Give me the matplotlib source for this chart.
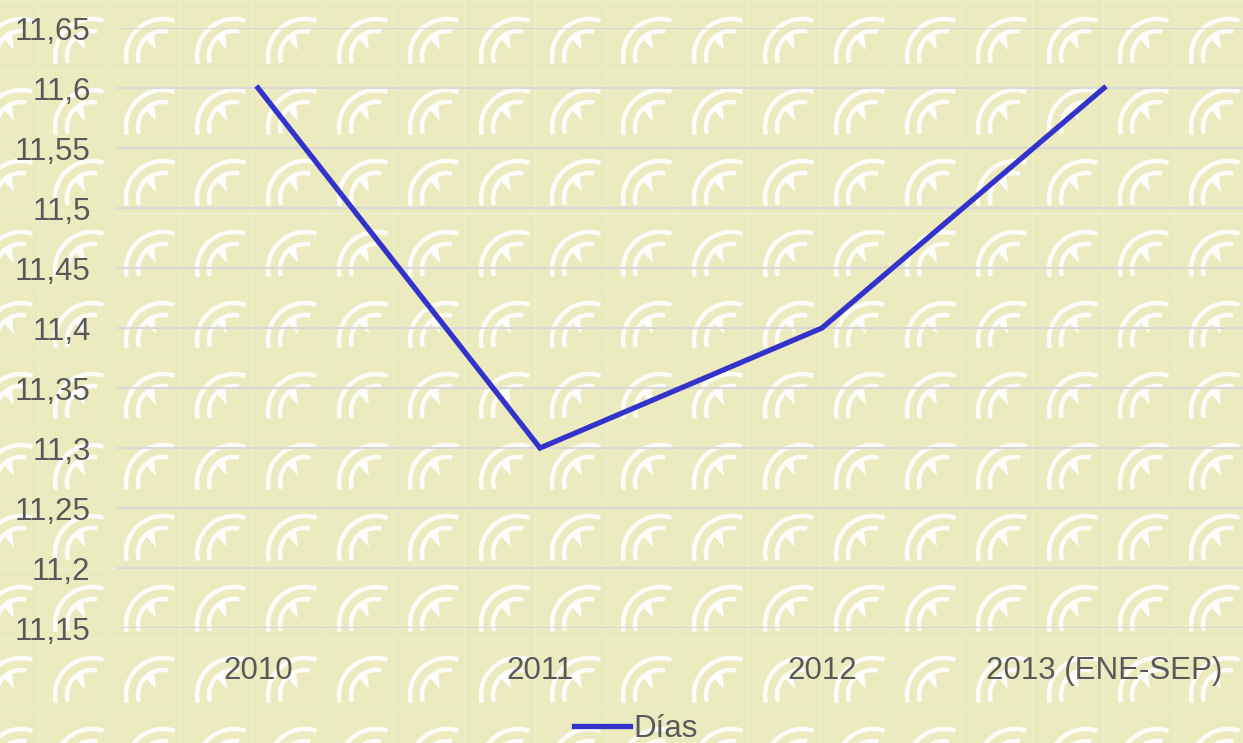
import matplotlib
matplotlib.use("Agg")
import matplotlib.pyplot as plt
from matplotlib.patches import Arc, Polygon
from matplotlib.lines import Line2D
from matplotlib.transforms import Affine2D

years = ["2010", "2011", "2012", "2013 (ENE-SEP)"]
dias = [11.6, 11.3, 11.4, 11.6]
y_ticks = [11.15, 11.2, 11.25, 11.3, 11.35, 11.4, 11.45, 11.5, 11.55, 11.6, 11.65]

W, H = 1243, 743
bg = "#ebebbf"
text_col = "#595959"
line_col = "#3333cc"

plt.rcParams["font.family"] = ["Liberation Sans", "DejaVu Sans"]

fig = plt.figure(figsize=(W / 100, H / 100), dpi=100, facecolor=bg)

# pixel coords (origin top-left) -> display
px = Affine2D().scale(0.01, -0.01).translate(0, H / 100) + fig.dpi_scale_trans

# background tiles with the faint logo
tile = 71
x_off, y_off = 38, 0
for i in range(-1, 18):
    x0 = x_off + i * tile
    fig.add_artist(Line2D([x0, x0], [0, H], transform=px, color="#f0f0cc", lw=1, zorder=-3))
for j in range(0, 12):
    y0 = y_off + j * tile
    fig.add_artist(Line2D([0, W], [y0, y0], transform=px, color="#f0f0cc", lw=1, zorder=-3))
for i in range(-1, 18):
    for j in range(-1, 11):
        x0 = x_off + i * tile
        y0 = y_off + j * tile
        cx, cy = x0 + 54, y0 + 56
        for r, a1, a2 in [(37, 72, 192), (25, 78, 196)]:
            arc = Arc((cx, cy), 2 * r, 2 * r, theta1=-a2, theta2=-a1,
                      transform=px, color="white", lw=3.2, alpha=0.9, zorder=-2)
            fig.add_artist(arc)
        tri = Polygon([(x0 + 36, y0 + 38), (x0 + 45, y0 + 34), (x0 + 47, y0 + 50)],
                      closed=True, transform=px, facecolor="white", edgecolor="none",
                      alpha=0.95, zorder=-1.5)
        fig.add_artist(tri)

ax = fig.add_axes([117 / W, (H - 628) / H, 1128 / W, 600 / H])
ax.set_facecolor("none")
ax.set_xlim(-0.5, 3.5)
ax.set_ylim(11.15, 11.65)

xs = list(range(len(years)))
ax.plot(xs, dias, color=line_col, lw=3.8, solid_joinstyle="miter", label="Días", zorder=3)

ax.set_yticks(y_ticks)
ax.set_yticklabels([("%g" % round(v, 2)).replace(".", ",") for v in y_ticks])
ax.set_xticks(xs)
ax.set_xticklabels(years)
ax.yaxis.grid(True, color="#d9d9d9", lw=1.6)
ax.set_axisbelow(True)
ax.tick_params(axis="both", length=0, labelsize=22.5, labelcolor=text_col)
ax.tick_params(axis="y", pad=19)
ax.tick_params(axis="x", pad=20)
for s in ax.spines.values():
    s.set_visible(False)

fig.legend(loc="center", bbox_to_anchor=(636 / W, (H - 729) / H), frameon=False,
           fontsize=22.5, labelcolor=text_col, handlelength=1.8, handletextpad=0.1)

fig.savefig("out.png", dpi=100, facecolor=bg)
